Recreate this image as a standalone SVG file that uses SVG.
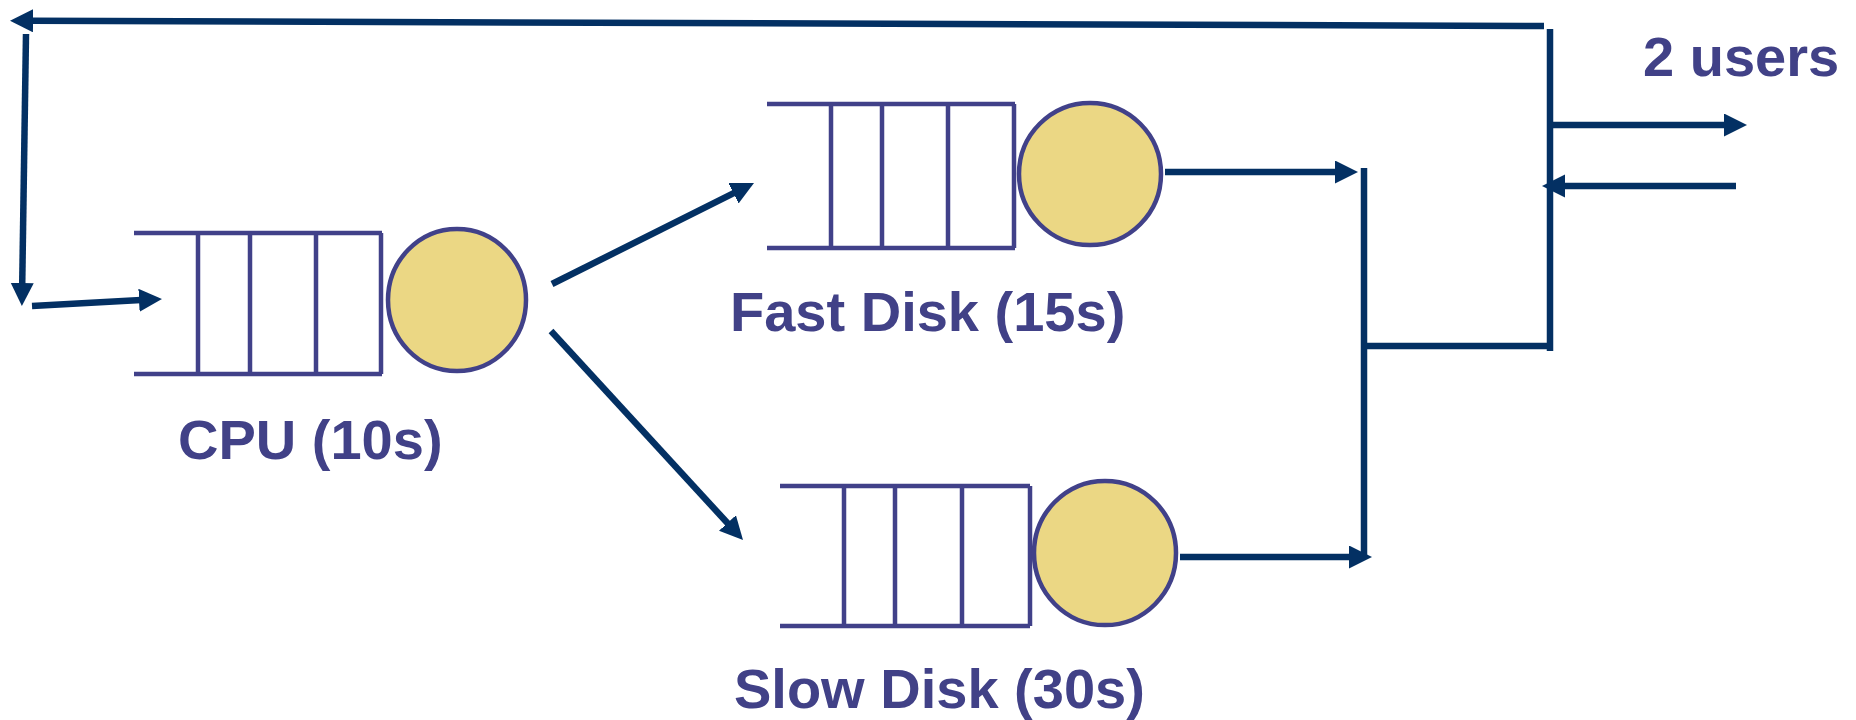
<svg xmlns="http://www.w3.org/2000/svg" width="1856" height="720" viewBox="0 0 1856 720">
  <style>
    .conn { stroke: #033063; stroke-width: 6.5; fill: none; }
    .queue { stroke: #414189; stroke-width: 4.5; fill: none; }
    .server { stroke: #414189; stroke-width: 4.5; fill: #EBD784; }
    .label { font-family: "Liberation Sans", Arial, sans-serif; font-weight: bold; font-size: 56px; fill: #414187; }
  </style>
  <defs>
    <marker id="arrow" markerUnits="userSpaceOnUse" markerWidth="24" markerHeight="24" refX="2" refY="11.5" orient="auto">
      <path d="M0,0 L23,11.5 L0,23 z" fill="#033063"/>
    </marker>
  </defs>
  <rect width="1856" height="720" fill="#ffffff"/>

  <!-- connectors -->
  <g id="connectors">
    <!-- return path back to the CPU -->
    <line class="conn" x1="1544" y1="26" x2="31" y2="20.8" marker-end="url(#arrow)"/>
    <line class="conn" x1="26" y1="34" x2="22.2" y2="285" marker-end="url(#arrow)"/>
    <line class="conn" x1="32" y1="306" x2="141" y2="300.1" marker-end="url(#arrow)"/>
    <!-- CPU to disks -->
    <line class="conn" x1="552" y1="284" x2="735.2" y2="192.4" marker-end="url(#arrow)"/>
    <line class="conn" x1="551" y1="331" x2="728.8" y2="524.5" marker-end="url(#arrow)"/>
    <!-- disks to merge -->
    <line class="conn" x1="1165" y1="172" x2="1337" y2="172" marker-end="url(#arrow)"/>
    <line class="conn" x1="1180" y1="557" x2="1351" y2="557" marker-end="url(#arrow)"/>
    <line class="conn" x1="1364" y1="168" x2="1364" y2="557"/>
    <line class="conn" x1="1364" y1="346" x2="1550" y2="346"/>
    <line class="conn" x1="1550" y1="29" x2="1550" y2="351"/>
    <!-- users -->
    <line class="conn" x1="1550" y1="125" x2="1726" y2="125" marker-end="url(#arrow)"/>
    <line class="conn" x1="1736" y1="186" x2="1563" y2="186" marker-end="url(#arrow)"/>
  </g>

  <!-- CPU station -->
  <g id="cpu">
    <path class="queue" d="M134,233 H382 M134,374 H382 M198,233 V374 M250,233 V374 M316,233 V374 M381,233 V374"/>
    <path class="server" d="M388,300 A69,71 0 1,0 526,300 A69,71 0 1,0 388,300 Z"/>
    <text class="label" x="178" y="459">CPU (10s)</text>
  </g>

  <!-- fast disk station -->
  <g id="fast-disk">
    <path class="queue" d="M767,104 H1015 M767,248 H1015 M831,104 V248 M882,104 V248 M948,104 V248 M1014,104 V248"/>
    <path class="server" d="M1019,174 A71,71 0 1,0 1161,174 A71,71 0 1,0 1019,174 Z"/>
    <text class="label" x="730" y="331">Fast Disk (15s)</text>
  </g>

  <!-- slow disk station -->
  <g id="slow-disk">
    <path class="queue" d="M780,486 H1030 M780,626 H1030 M844,486 V626 M895,486 V626 M962,486 V626 M1030,486 V626"/>
    <path class="server" d="M1034,553 A71,72 0 1,0 1176,553 A71,72 0 1,0 1034,553 Z"/>
    <text class="label" x="734" y="708">Slow Disk (30s)</text>
  </g>

  <!-- user population -->
  <g id="users">
    <text class="label" x="1643" y="76">2 users</text>
  </g>
</svg>
